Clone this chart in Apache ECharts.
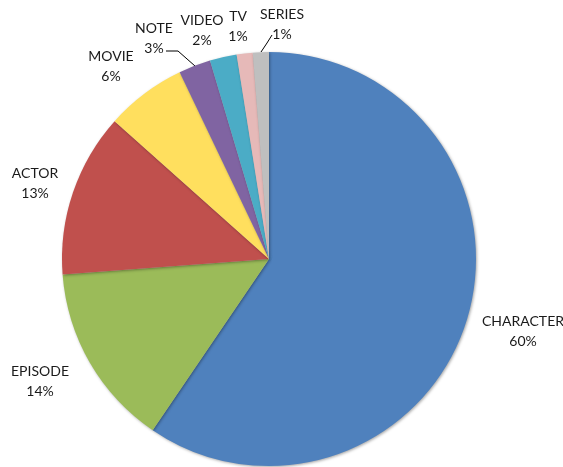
<!DOCTYPE html>
<html><head><meta charset="utf-8">
<script src="https://cdn.jsdelivr.net/npm/echarts@6/dist/echarts.min.js"></script>
<style>html,body{margin:0;padding:0;background:#fff}#c{width:563px;height:467px}</style>
</head><body><div id="c"></div>
<script>
const categories = ['CHARACTER','EPISODE','ACTOR','MOVIE','NOTE','VIDEO','TV','SERIES'];
const values = [59.5, 14.3, 12.8, 6.3, 2.5, 2.1, 1.25, 1.25];
const colors = ['#4F81BD','#9BBB59','#C0504D','#FFDF5E','#8064A2','#4BACC6','#E6B9B8','#BFBFBF'];

// layout (not data)
const labelCenters = [[523,331],[40,381],[35,183],[111,66],[154,38],[202,30],[238,26],[282,24]];
const leaders = {4: [[166,51],[178,51],[195,66]], 6: null, 7: [[272,35],[267,43],[261,52]]};

const chart = echarts.init(document.getElementById('c'), null, {renderer:'canvas'});
chart.setOption({
  animation: false,
  color: colors,
  series: [{
    type: 'pie',
    center: [269, 259],
    radius: 207,
    startAngle: 90,
    clockwise: true,
    avoidLabelOverlap: false,
    silent: true,
    itemStyle: { shadowBlur: 3, shadowColor: 'rgba(0,0,0,0.35)', shadowOffsetX: 1, shadowOffsetY: 1 },
    label: {
      show: true,
      position: 'outside',
      fontFamily: 'Lato',
      fontSize: 14,
      lineHeight: 20,
      color: '#1a1a1a',
      align: 'center',
      formatter: p => p.name + '\n' + Math.round(p.percent) + '%'
    },
    labelLine: { show: false, lineStyle: { color: '#000', width: 1 } },
    labelLayout: function (p) {
      const i = p.dataIndex;
      const c = labelCenters[i];
      const out = { x: c[0], y: c[1], align: 'center', verticalAlign: 'middle' };
      if (leaders[i]) out.labelLinePoints = leaders[i];
      return out;
    },
    data: categories.map((n, i) => ({
      name: n,
      value: values[i],
      labelLine: leaders[i] ? { show: true } : undefined
    }))
  }]
});
</script></body></html>
